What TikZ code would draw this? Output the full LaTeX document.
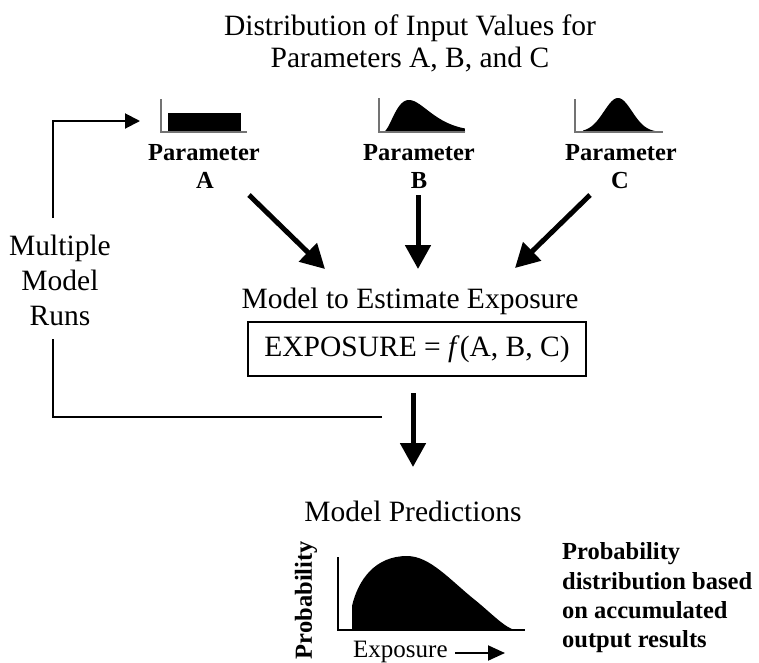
\documentclass[tikz,border=0pt]{standalone}
\usepackage{fontspec}
\setmainfont{Liberation Serif}
\usetikzlibrary{arrows.meta}
\begin{document}
\begin{tikzpicture}[x=1pt,y=-1pt,
 reg/.style={font=\fontsize{29.5}{32}\selectfont, inner sep=0pt, anchor=base},
 bld/.style={font=\fontsize{24.5}{29}\selectfont\bfseries, inner sep=0pt, anchor=base},
 bigarrow/.style={line width=5pt, -{Triangle[length=24pt,width=25pt]}},
 thinline/.style={line width=2pt},
 iconaxis/.style={draw=black!55, line width=1.5pt},
 chartaxis/.style={draw=black, line width=2pt}]
\useasboundingbox (0,0) rectangle (759,662);

% title
\node[reg] (t1) at (410,35) {Distribution of Input Values for};
\node[reg] (t2) at (410,67) {Parameters A, B, and C};

% parameter icons
\fill (168,113) rectangle (241,132);
\draw[iconaxis] (161,99) -- (161,132) -- (247,132);

\fill (383,132) -- plot[domain=0.001:1, samples=80] ({383+82*\x},{132-32*pow(\x/0.317,2.2)*exp(2.2*(1-\x/0.317))}) -- (465,132) -- cycle;
\draw[iconaxis] (379,98) -- (379,132) -- (465,132);

\fill (583,132) -- plot[domain=583:655, samples=80] (\x,{132-34*exp(-((\x-618)^2)/392)}) -- cycle;
\draw[iconaxis] (575,99) -- (575,132) -- (663,132);

% parameter labels
\node[bld] (pA1) at (204,160) {Parameter};
\node[bld] (pA2) at (205,188) {A};
\node[bld] (pB1) at (419,160) {Parameter};
\node[bld] (pB2) at (419,188) {B};
\node[bld] (pC1) at (621,160) {Parameter};
\node[bld] (pC2) at (620,188) {C};

% arrows into model
\coordinate (aS) at (249,195); \coordinate (aE) at (325,269);
\coordinate (bS) at (418,195); \coordinate (bE) at (418,269);
\coordinate (cS) at (590,195); \coordinate (cE) at (515,268);
\draw[bigarrow] (aS) -- (aE);
\draw[bigarrow] (bS) -- (bE);
\draw[bigarrow] (cS) -- (cE);

% model
\node[reg] (mt) at (410,308) {Model to Estimate Exposure};
\node[draw, line width=2pt, minimum width=338pt, minimum height=54pt, inner sep=0pt,
      font=\fontsize{29.5}{32}\selectfont] (box) at (417,349) {EXPOSURE = \textit{f}(A, B, C)};

\coordinate (dS) at (413,393); \coordinate (dE) at (413,467);
\draw[bigarrow] (dS) -- (dE);

% feedback loop
\node[reg] (mr1) at (60,255) {Multiple};
\node[reg] (mr2) at (60,290) {Model};
\node[reg] (mr3) at (60,325) {Runs};
\coordinate (fbS) at (382,417); \coordinate (fbC) at (53,417); \coordinate (fbG1) at (53,339);
\coordinate (fbG2) at (53,218); \coordinate (fbT) at (53,121); \coordinate (fbE) at (140,121);
\draw[thinline] (fbS) -- (fbC) -- (fbG1);
\draw[thinline, -{Triangle[length=15pt,width=15pt]}] (fbG2) -- (fbT) -- (fbE);

% predictions
\node[reg] (mp) at (413,521) {Model Predictions};
\fill (352,630) -- (352,606) .. controls (358,580) and (375,556) .. (407,556)
      .. controls (430,556) and (450,580) .. (475,600)
      .. controls (490,612) and (505,628) .. (515,630) -- cycle;
\draw[chartaxis] (338,557) -- (338,630) -- (525,630);
\node[bld, rotate=90, anchor=center] (prob) at (306,600) {Probability};
\node[font=\fontsize{25}{30}\selectfont, inner sep=0pt, anchor=base west] (ex) at (353,657) {Exposure};
\coordinate (xS) at (455,653); \coordinate (xE) at (505,653);
\draw[line width=2pt, -{Triangle[length=17pt,width=15pt]}] (xS) -- (xE);

\node[bld, anchor=base west] (r1) at (562,559) {Probability};
\node[bld, anchor=base west] (r2) at (562,589) {distribution based};
\node[bld, anchor=base west] (r3) at (562,618) {on accumulated};
\node[bld, anchor=base west] (r4) at (562,647) {output results};
\end{tikzpicture}
\end{document}
